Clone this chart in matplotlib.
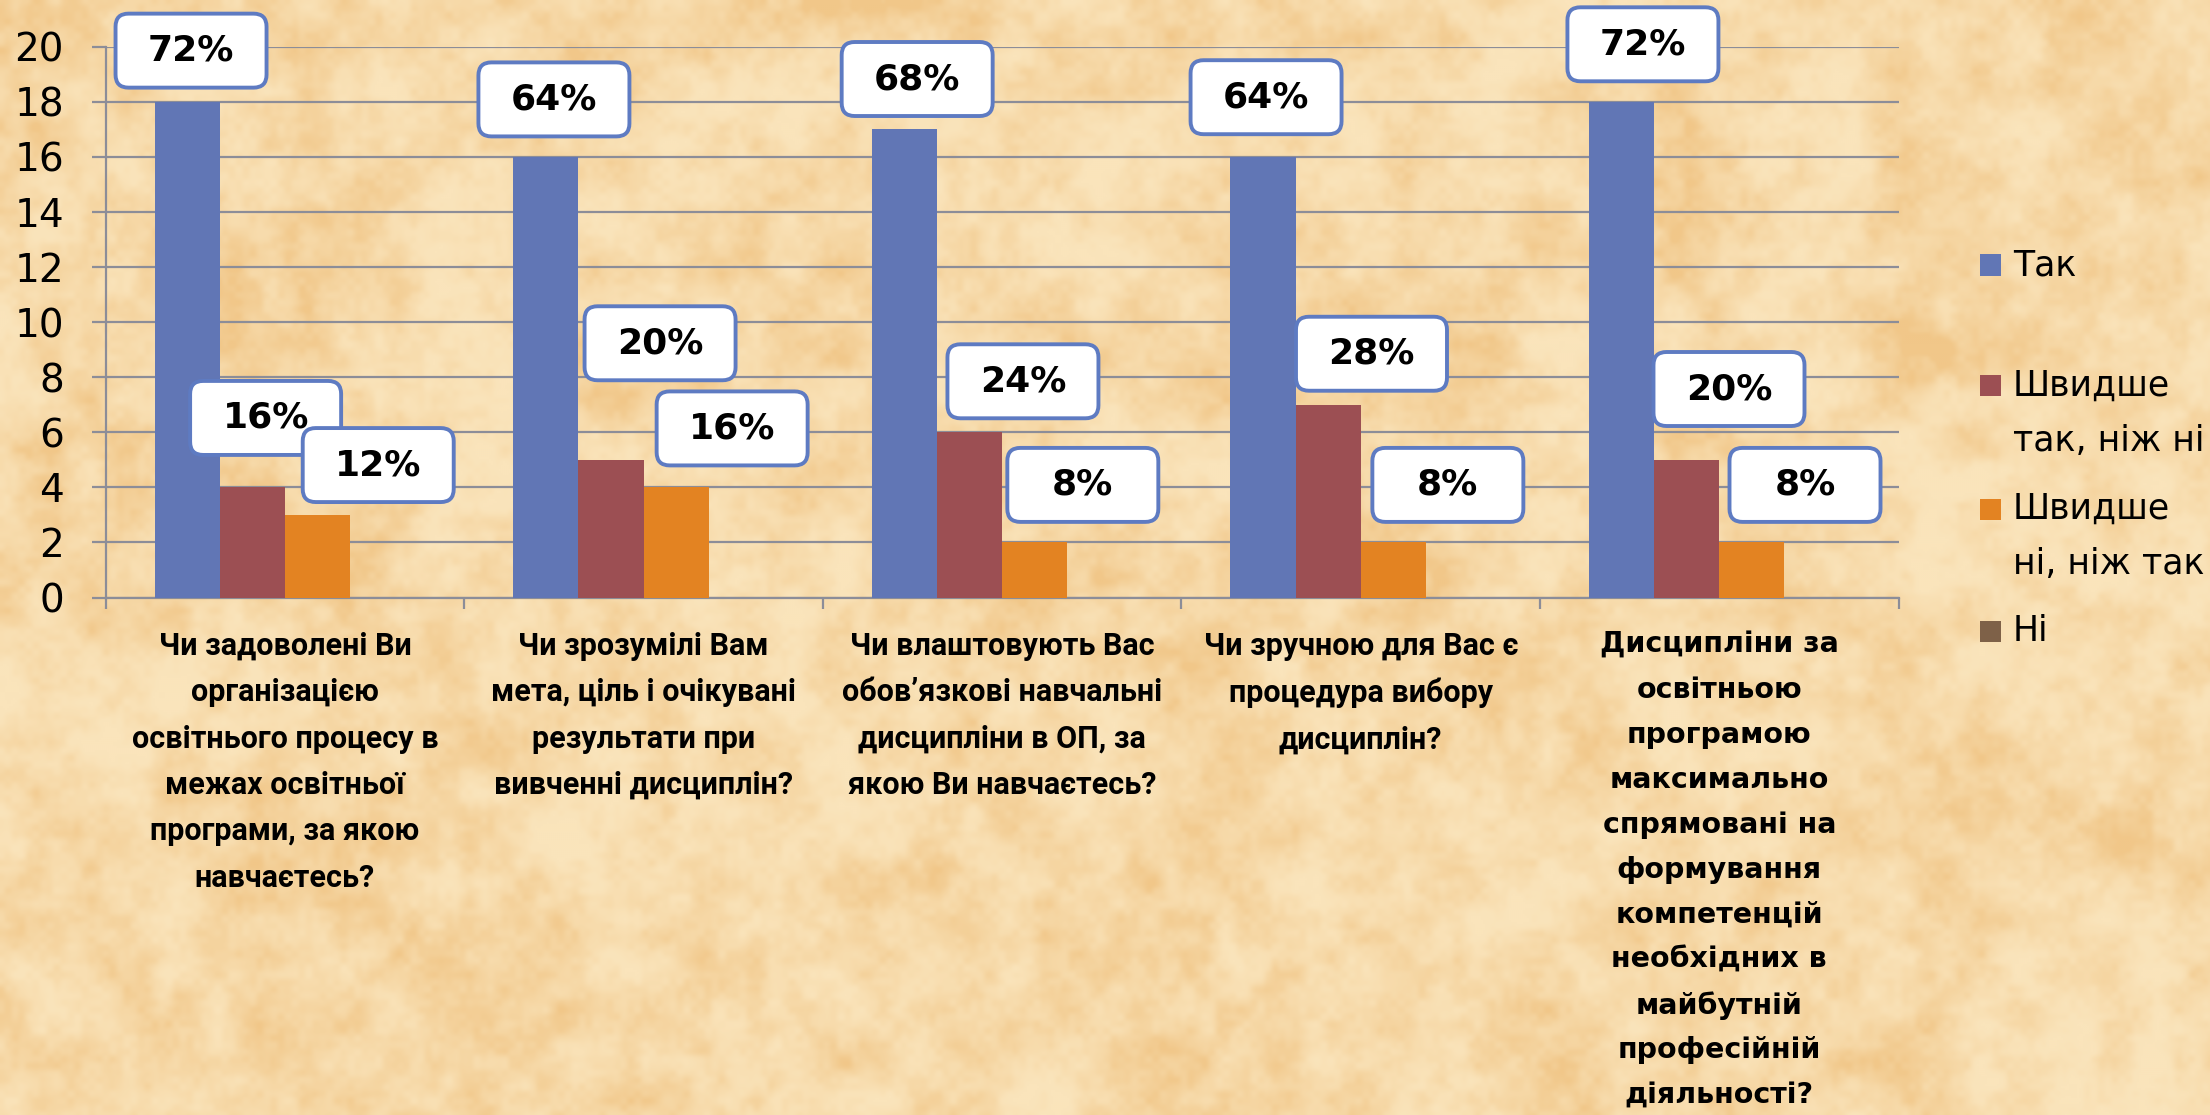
import numpy as np
import matplotlib
matplotlib.use("Agg")
import matplotlib.pyplot as plt
from matplotlib import transforms
from matplotlib.patches import FancyBboxPatch, Rectangle

# --- data -------------------------------------------------------------
categories = [
    "Чи задоволені Ви\nорганізацією\nосвітнього процесу в\nмежах освітньої\nпрограми, за якою\nнавчаєтесь?",
    "Чи зрозумілі Вам\nмета, ціль і очікувані\nрезультати при\nвивченні дисциплін?",
    "Чи влаштовують Вас\nобов’язкові навчальні\nдисципліни в ОП, за\nякою Ви навчаєтесь?",
    "Чи зручною для Вас є\nпроцедура вибору\nдисциплін?",
    "Дисципліни за\nосвітньою\nпрограмою\nмаксимально\nспрямовані на\nформування\nкомпетенцій\nнеобхідних в\nмайбутній\nпрофесійній\nдіяльності?",
]
series_names = ["Так", "Швидше\nтак, ніж ні", "Швидше\nні, ніж так", "Ні"]
tak = [18, 16, 17, 16, 18]
shvydshe_tak = [4, 5, 6, 7, 5]
shvydshe_ni = [3, 4, 2, 2, 2]
ni = [0, 0, 0, 0, 0]
pct_tak = ["72%", "64%", "68%", "64%", "72%"]
pct_shvydshe_tak = ["16%", "20%", "24%", "28%", "20%"]
pct_shvydshe_ni = ["12%", "16%", "8%", "8%", "8%"]
yticks = [0, 2, 4, 6, 8, 10, 12, 14, 16, 18, 20]

# --- style / layout ---------------------------------------------------
colors = ["#6176B5", "#9C4F53", "#E38322", "#7E6148"]
grid_col = "#8C8D98"
box_edge = "#5E7BC2"
# label box centres: (offset from category centre, y value)
pos_tak = [(-0.262, 19.85), (-0.25, 18.08), (-0.237, 18.82), (-0.264, 18.16), (-0.213, 20.08)]
pos_st = [(-0.054, 6.52), (0.046, 9.23), (0.058, 7.85), (0.030, 8.85), (0.027, 7.57)]
pos_sn = [(0.260, 4.81), (0.247, 6.14), (0.225, 4.09), (0.243, 4.09), (0.239, 4.09)]

W, H = 2210, 1115
fig = plt.figure(figsize=(W / 100, H / 100), dpi=100)


def value_noise(h, w, cell):
    # smooth value noise from a coordinate hash (background texture only)
    yy, xx = np.mgrid[0:h, 0:w] / cell
    x0, y0 = np.floor(xx), np.floor(yy)
    fx, fy = xx - x0, yy - y0
    fx, fy = fx * fx * (3 - 2 * fx), fy * fy * (3 - 2 * fy)

    def hsh(ix, iy):
        v = np.sin(ix * 12.9898 + iy * 78.233 + cell) * 43758.5453
        return v - np.floor(v)

    a, b = hsh(x0, y0), hsh(x0 + 1, y0)
    c, d = hsh(x0, y0 + 1), hsh(x0 + 1, y0 + 1)
    return (a * (1 - fx) + b * fx) * (1 - fy) + (c * (1 - fx) + d * fx) * fy


# parchment background
bg = fig.add_axes([0, 0, 1, 1], zorder=-10)
hh, ww = H // 2, W // 2
tex = (0.3 * value_noise(hh, ww, 60) + 0.32 * value_noise(hh, ww, 22)
       + 0.25 * value_noise(hh, ww, 9) + 0.13 * value_noise(hh, ww, 3.5))
tex = (tex - tex.min()) / (tex.max() - tex.min())
tex = np.clip((tex - 0.2) / 0.65, 0, 1) ** 1.3
light = np.array([250, 228, 187]) / 255.0
dark = np.array([241, 199, 137]) / 255.0
img = light[None, None, :] * (1 - tex[..., None]) + dark[None, None, :] * tex[..., None]
bg.imshow(img, aspect="auto", interpolation="bilinear", extent=[0, 1, 0, 1])
bg.set_axis_off()

left, right = 105.7 / W, 1898.6 / W
bottom, top = 1 - 597.6 / H, 1 - 46.5 / H
ax = fig.add_axes([left, bottom, right - left, top - bottom])
ax.set_facecolor("none")

x = np.arange(len(categories))
bw = 0.1816
offsets = [-1.5 * bw, -0.5 * bw, 0.5 * bw, 1.5 * bw]
for vals, off, c in zip([tak, shvydshe_tak, shvydshe_ni, ni], offsets, colors):
    ax.bar(x + off, vals, bw, color=c, zorder=3, linewidth=0)

ax.set_xlim(-0.5, len(categories) - 0.5)
ax.set_ylim(0, 20)
ax.set_yticks(yticks)
ax.set_yticklabels([str(v) for v in yticks], fontsize=28, family="DejaVu Sans")
ax.set_xticks(np.arange(len(categories) + 1) - 0.5)
ax.set_xticklabels([])
ax.yaxis.grid(True, color=grid_col, linewidth=1.6, zorder=0)
ax.set_axisbelow(True)
for s in ["top", "right"]:
    ax.spines[s].set_visible(False)
for s in ["left", "bottom"]:
    ax.spines[s].set_color(grid_col)
    ax.spines[s].set_linewidth(1.6)
ax.tick_params(axis="y", length=10, width=1.6, color=grid_col, pad=20, labelcolor="black")
ax.tick_params(axis="x", length=8, width=1.6, color=grid_col)

# data label boxes
bw_in, bh_in = 1.51, 0.74
z = 5
for labels, pos in [(pct_tak, pos_tak), (pct_shvydshe_tak, pos_st), (pct_shvydshe_ni, pos_sn)]:
    for i, (lab, (dx, yv)) in enumerate(zip(labels, pos)):
        tr = fig.dpi_scale_trans + transforms.ScaledTranslation(i + dx, yv, ax.transData)
        box = FancyBboxPatch((-bw_in / 2, -bh_in / 2), bw_in, bh_in,
                             boxstyle="round,pad=0,rounding_size=0.13",
                             facecolor="white", edgecolor=box_edge, linewidth=2.8,
                             transform=tr, clip_on=False, zorder=z)
        ax.add_patch(box)
        ax.text(i + dx, yv, lab, ha="center", va="center", fontsize=26,
                fontweight="bold", family="DejaVu Sans", zorder=z + 1, clip_on=False)
        z += 2

# category labels
for i, cat in enumerate(categories):
    if i == len(categories) - 1:
        fam, fs, ls = ["DejaVu Sans"], 20.5, 1.77
    else:
        fam, fs, ls = ["Roboto", "DejaVu Sans"], 22, 1.68
    ax.annotate(cat, xy=(i, 0), xycoords=("data", "axes fraction"),
                xytext=(0, -24), textcoords="offset points",
                ha="center", va="top", fontsize=fs, fontweight="bold",
                family=fam, linespacing=ls, annotation_clip=False)

# legend
leg_y = [265, 386, 509, 631]
for name, c, yc in zip(series_names, colors, leg_y):
    fig.patches.append(Rectangle((1980 / W, 1 - (yc + 10.5) / H), 21 / W, 21 / H,
                                 transform=fig.transFigure, facecolor=c, edgecolor="none"))
    for k, line in enumerate(name.split("\n")):
        fig.text(2013 / W, 1 - (yc + 55 * k) / H, line, ha="left", va="center",
                 fontsize=25, family="DejaVu Sans")

fig.savefig("out.png", dpi=100)
